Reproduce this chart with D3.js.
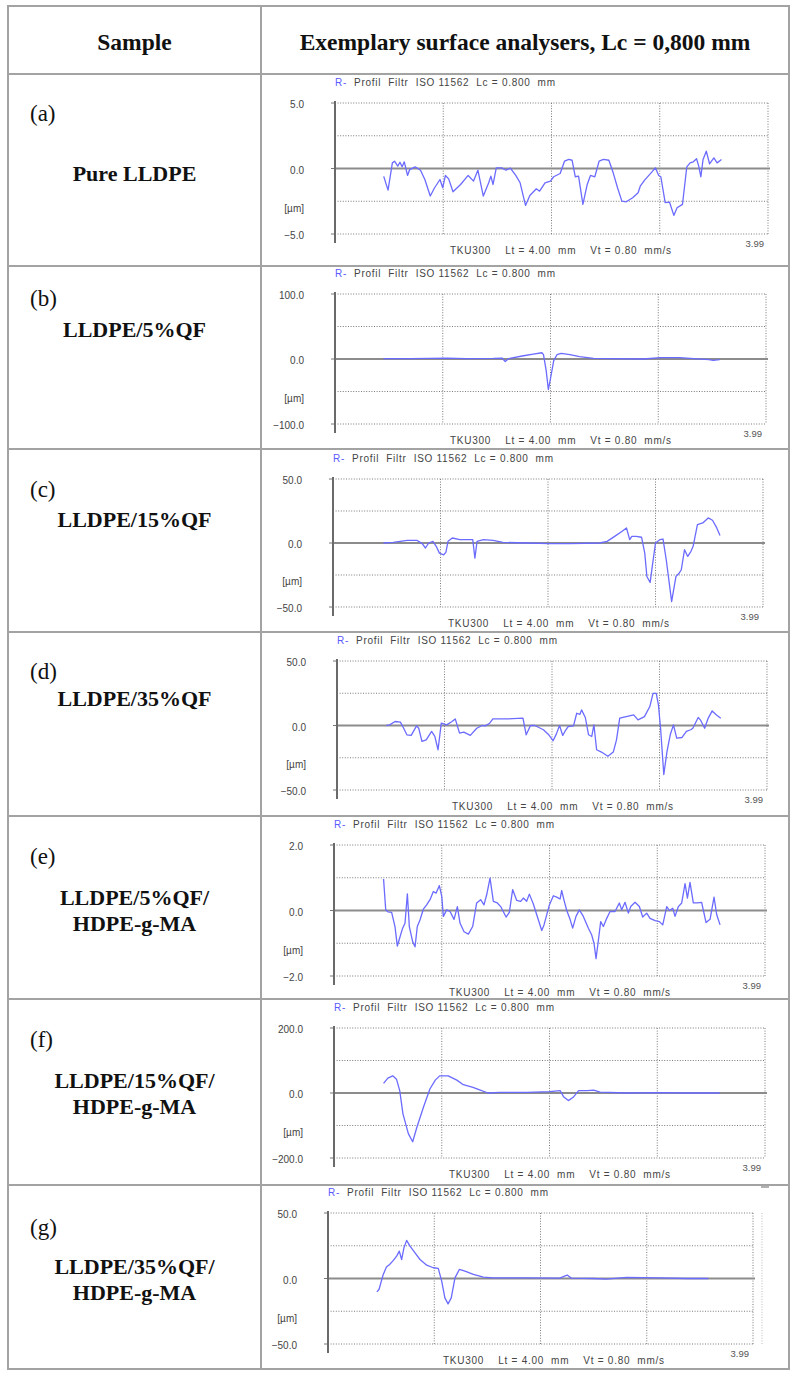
<!DOCTYPE html>
<html><head><meta charset="utf-8">
<script src="https://cdn.jsdelivr.net/npm/d3@7"></script>
<style>html,body{margin:0;padding:0;background:#fff;} svg{display:block;}</style>
</head><body>
<svg id="chart" width="797" height="1378"></svg>
<script>
// ---------- data ----------
const headerLabels = ["Sample", "Exemplary surface analysers, Lc = 0,800 mm"];
const sampleLetters = ["(a)", "(b)", "(c)", "(d)", "(e)", "(f)", "(g)"];
const sampleNames = [
  ["Pure LLDPE"], ["LLDPE/5%QF"], ["LLDPE/15%QF"], ["LLDPE/35%QF"],
  ["LLDPE/5%QF/", "HDPE-g-MA"], ["LLDPE/15%QF/", "HDPE-g-MA"], ["LLDPE/35%QF/", "HDPE-g-MA"]
];
const yLimits = [5, 100, 50, 50, 2, 200, 50];      // µm, symmetric axis
const xLength = 4;                                  // mm
const xEndLabel = "3.99";
const yUnitLabel = "[µm]";
const titlePrefix = "R-";
const titleText = "  Profil  Filtr  ISO 11562  Lc = 0.800  mm";
const footerText = "TKU300    Lt = 4.00  mm    Vt = 0.80  mm/s";

// profiles: [position mm, height µm]
const profileA = [[0.45,-0.6],[0.49,-1.65],[0.53,0.43],[0.55,0.56],[0.58,0.18],[0.60,0.48],[0.62,0.13],[0.64,0.51],[0.67,-0.53],[0.69,-0.08],[0.74,0.13],[0.79,-0.13],[0.83,-0.84],[0.88,-2.1],[0.92,-1.47],[0.97,-0.84],[0.995,-1.47],[1.02,-0.53],[1.05,-0.79],[1.09,-1.78],[1.16,-1.22],[1.23,-0.53],[1.28,-0.96],[1.32,-0.13],[1.37,-2.1],[1.42,-1.09],[1.44,-0.58],[1.46,-1.22],[1.49,0.05],[1.54,0.05],[1.58,-0.13],[1.62,0.03],[1.67,-0.53],[1.71,-1.09],[1.76,-2.82],[1.80,-2.06],[1.86,-1.55],[1.89,-1.73],[1.94,-1.09],[1.99,-0.96],[2.02,-0.63],[2.08,-0.38],[2.12,0.56],[2.16,0.69],[2.19,0.63],[2.22,-0.63],[2.25,-0.58],[2.29,-2.74],[2.33,-1.22],[2.36,-0.53],[2.40,-0.63],[2.44,0.56],[2.48,0.69],[2.53,0.63],[2.57,-0.33],[2.61,-1.47],[2.65,-2.49],[2.69,-2.54],[2.75,-2.23],[2.80,-1.85],[2.82,-1.35],[2.86,-0.89],[2.92,-0.33],[2.96,0.05],[2.99,-0.53],[3.01,-0.63],[3.05,-2.61],[3.09,-2.56],[3.13,-3.58],[3.16,-3.0],[3.21,-2.74],[3.25,0.13],[3.28,0.43],[3.31,0.51],[3.34,0.74],[3.36,0.18],[3.38,-0.63],[3.40,0.69],[3.43,1.32],[3.46,0.36],[3.50,0.81],[3.53,0.43],[3.57,0.69]];
const profileB = [[0.45,0.5],[0.70,0.5],[1.04,1.5],[1.22,0.5],[1.47,1],[1.55,1.5],[1.58,-4],[1.61,0.5],[1.75,5],[1.84,7.6],[1.92,9.6],[1.935,6.6],[1.96,-17.8],[1.98,-47],[2.00,-30],[2.03,-2.5],[2.06,6.6],[2.10,8.6],[2.18,6.6],[2.27,3.5],[2.40,1],[2.55,0.5],[2.86,0],[3.02,2],[3.20,2],[3.33,0.5],[3.47,-1],[3.51,-2],[3.57,-1]];
const profileC = [[0.47,0],[0.56,0.5],[0.69,2.1],[0.78,2.1],[0.83,-0.5],[0.86,-3.9],[0.89,0],[0.93,1.3],[0.96,-2.6],[0.99,-7.9],[1.03,-9.2],[1.05,-7.3],[1.07,1.3],[1.11,3.9],[1.18,2.6],[1.30,2.6],[1.32,-11.8],[1.34,1.3],[1.40,2.6],[1.49,2.1],[1.58,0.5],[1.80,0],[2.02,-0.5],[2.20,-0.5],[2.48,0],[2.55,1.3],[2.62,5.2],[2.69,9.2],[2.73,11.8],[2.76,2.6],[2.78,5.2],[2.82,5.2],[2.87,4.5],[2.90,-7.9],[2.92,-26.2],[2.95,-30.9],[2.97,-18.3],[3.00,0],[3.04,2.6],[3.07,3.1],[3.10,-13.1],[3.15,-45.8],[3.19,-26.2],[3.22,-23.6],[3.24,-20.9],[3.27,-5.2],[3.30,-10.5],[3.33,-6.5],[3.35,-2.6],[3.39,14.4],[3.44,15.7],[3.49,19.6],[3.53,17.8],[3.57,11.8],[3.60,5.8]];
const profileD = [[0.46,0],[0.49,0.5],[0.54,3.1],[0.59,2.6],[0.62,-2.1],[0.65,-7.2],[0.69,-7.7],[0.74,-0.3],[0.76,-2.1],[0.79,-12.3],[0.83,-11.1],[0.88,-4.6],[0.91,-8.5],[0.94,-18.8],[0.97,1.8],[1.02,0.5],[1.07,3.1],[1.10,5.1],[1.14,-5.9],[1.18,-5.1],[1.24,-7.7],[1.30,-2.1],[1.35,0],[1.38,-0.3],[1.42,1.8],[1.45,5.1],[1.52,5.1],[1.59,5.1],[1.73,5.7],[1.76,-7.2],[1.80,0],[1.84,0],[1.92,-3.3],[1.97,-7.2],[2.01,-11.8],[2.04,-6.7],[2.07,0],[2.10,-7.7],[2.12,-4.6],[2.15,-0.8],[2.20,-0.3],[2.23,9.5],[2.26,8.7],[2.275,12.1],[2.31,6.2],[2.34,-7.2],[2.37,-8.5],[2.39,0.5],[2.415,-18.8],[2.46,-20.6],[2.52,-23.9],[2.57,-20.6],[2.60,-11.1],[2.63,5.7],[2.69,6.9],[2.76,8.2],[2.80,4.4],[2.86,6.9],[2.91,14.7],[2.94,24.9],[2.97,24.9],[2.99,15.9],[3.01,-2.1],[3.04,-38],[3.07,-20.1],[3.10,-7.2],[3.13,0.5],[3.16,-9.8],[3.21,-9.3],[3.25,-4.6],[3.29,-3.3],[3.31,-2.1],[3.36,6.2],[3.38,4.4],[3.42,-2.1],[3.45,5.1],[3.49,11.3],[3.53,8.2],[3.57,5.7]];
const profileE = [[0.46,0.96],[0.48,0.02],[0.50,-0.04],[0.535,-0.06],[0.566,-0.49],[0.588,-1.09],[0.613,-0.8],[0.637,-0.54],[0.659,-0.39],[0.681,0.51],[0.699,-0.49],[0.73,-0.95],[0.752,-1.11],[0.773,-0.49],[0.798,-0.29],[0.829,0.04],[0.86,0.17],[0.891,0.33],[0.922,0.58],[0.947,0.53],[0.978,0.76],[1.0,0.43],[1.015,-0.18],[1.046,0.02],[1.077,-0.03],[1.114,-0.27],[1.145,0.12],[1.17,-0.39],[1.207,-0.65],[1.247,-0.72],[1.287,-0.49],[1.324,0.23],[1.361,0.33],[1.392,0.17],[1.417,0.48],[1.448,0.99],[1.479,0.28],[1.516,0.23],[1.547,0.12],[1.597,-0.2],[1.627,-0.06],[1.658,0.64],[1.695,0.31],[1.733,0.28],[1.757,0.38],[1.788,0.28],[1.813,0.5],[1.85,0.2],[1.897,-0.29],[1.928,-0.61],[1.949,-0.44],[1.999,0.17],[2.036,0.45],[2.067,0.41],[2.098,0.35],[2.113,0.61],[2.135,0.31],[2.16,0],[2.191,-0.27],[2.215,-0.54],[2.246,-0.18],[2.277,0.02],[2.314,-0.18],[2.361,-0.54],[2.392,-0.75],[2.413,-1.0],[2.432,-1.47],[2.454,-0.9],[2.475,-0.34],[2.5,-0.49],[2.531,-0.24],[2.562,-0.03],[2.608,-0.03],[2.648,0.23],[2.67,0.02],[2.701,0.25],[2.732,-0.08],[2.754,0.12],[2.794,0.25],[2.834,0.12],[2.865,-0.2],[2.902,-0.08],[2.933,-0.24],[2.98,-0.31],[3.02,-0.34],[3.051,-0.44],[3.088,0.12],[3.113,0],[3.144,0.07],[3.165,-0.18],[3.196,0.12],[3.227,0.23],[3.258,0.82],[3.28,0.38],[3.304,0.86],[3.335,0.23],[3.372,0.23],[3.412,0.25],[3.453,-0.37],[3.49,-0.27],[3.527,0.41],[3.552,-0.13],[3.583,-0.44]];
const profileF = [[0.46,29.4],[0.50,45.7],[0.545,52.8],[0.58,42.6],[0.61,7.1],[0.64,-64],[0.69,-125],[0.73,-150],[0.77,-104.6],[0.83,-43.7],[0.89,12.2],[0.94,39.6],[0.98,52.8],[1.06,52.8],[1.14,39.6],[1.20,25.4],[1.29,17.3],[1.37,7.1],[1.43,0],[1.54,2],[1.79,2],[2.00,4],[2.10,7.1],[2.13,-11.2],[2.175,-23.4],[2.22,-13.2],[2.27,7.1],[2.35,7.1],[2.41,9.1],[2.47,3],[2.72,0],[3.03,1],[3.27,0],[3.58,0]];
const profileG = [[0.46,-10.2],[0.48,-8.4],[0.52,3.1],[0.55,8.7],[0.58,10.7],[0.615,13.8],[0.646,17.1],[0.671,20.9],[0.693,14.5],[0.715,23.5],[0.74,29.1],[0.772,24.7],[0.819,19.6],[0.866,14.5],[0.929,10.2],[0.991,8.2],[1.038,7.7],[1.07,-2],[1.10,-14.8],[1.13,-19.4],[1.16,-14.8],[1.195,0.5],[1.236,6.9],[1.289,5.6],[1.368,3.1],[1.462,1],[1.556,0.5],[1.87,0.5],[2.18,0.3],[2.25,2.6],[2.29,0.3],[2.50,0],[2.62,-0.5],[2.81,0.8],[3.125,0.5],[3.375,0],[3.58,0]];
const profiles = [profileA, profileB, profileC, profileD, profileE, profileF, profileG];

// ---------- layout ----------
const W = 797, H = 1378;
const tbl = {left: 8, right: 789, split: 261, top: 6};
const rowLines = [74, 266, 449, 632, 816, 999, 1185, 1369];
const letterY = [115, 300, 491, 673, 858, 1041, 1229];
const nameY = [[173], [329], [519], [698], [897, 923], [1080, 1106], [1266, 1292]];
const plots = [
  {x0:335, x1:768, y0:103, y1:234},
  {x0:335, x1:766, y0:294, y1:424},
  {x0:333, x1:763, y0:479, y1:607},
  {x0:337, x1:767, y0:661, y1:790},
  {x0:334, x1:765, y0:845, y1:976},
  {x0:334, x1:765, y0:1028, y1:1158},
  {x0:328, x1:753, y0:1213, y1:1344}
];
const serif = "'Liberation Serif','Times New Roman',serif";
const sans = "'Liberation Sans',Arial,sans-serif";

const svg = d3.select("#chart");
svg.append("rect").attr("width", W).attr("height", H).attr("fill", "#fff");

// ---------- table ----------
const tg = svg.append("g").attr("stroke", "#a3a3a3").attr("stroke-width", 2).attr("fill", "none");
tg.append("rect").attr("x", tbl.left).attr("y", tbl.top)
  .attr("width", tbl.right - tbl.left).attr("height", rowLines[rowLines.length-1] - tbl.top);
tg.append("line").attr("x1", tbl.split).attr("x2", tbl.split).attr("y1", tbl.top).attr("y2", rowLines[rowLines.length-1]);
tg.selectAll(null).data(rowLines.slice(0, -1)).join("line")
  .attr("x1", tbl.left).attr("x2", tbl.right).attr("y1", d => d).attr("y2", d => d);

svg.append("text").attr("x", (tbl.left + tbl.split)/2).attr("y", 50)
  .attr("text-anchor", "middle").attr("font-family", serif).attr("font-weight", "bold")
  .attr("font-size", 23.5).attr("fill", "#111").text(headerLabels[0]);
svg.append("text").attr("x", (tbl.split + tbl.right)/2).attr("y", 50)
  .attr("text-anchor", "middle").attr("font-family", serif).attr("font-weight", "bold")
  .attr("font-size", 23.5).attr("fill", "#111").text(headerLabels[1]);

sampleLetters.forEach((s, i) => {
  svg.append("text").attr("x", 30).attr("y", letterY[i] + 6)
    .attr("font-family", serif).attr("font-size", 23).attr("fill", "#111").text(s);
  sampleNames[i].forEach((line, j) => {
    svg.append("text").attr("x", (tbl.left + tbl.split)/2).attr("y", nameY[i][j] + 7.5)
      .attr("text-anchor", "middle").attr("font-family", serif).attr("font-weight", "bold")
      .attr("font-size", 22).attr("fill", "#111").text(line);
  });
});

// ---------- profile panels ----------
const fmt = d3.format(".1f");
profiles.forEach((data, i) => {
  const P = plots[i], M = yLimits[i];
  const x = d3.scaleLinear().domain([0, xLength]).range([P.x0, P.x1]);
  const y = d3.scaleLinear().domain([-M, M]).range([P.y1, P.y0]);
  const g = svg.append("g");
  const yTicks = [M, M/2, -M/2, -M];
  const xTicks = [1, 2, 3, 4];

  g.selectAll(null).data(yTicks).join("line")
    .attr("x1", P.x0).attr("x2", P.x1).attr("y1", d => y(d)).attr("y2", d => y(d))
    .attr("stroke", "#7a7a7a").attr("stroke-width", 1).attr("stroke-dasharray", "1,1.6");
  g.selectAll(null).data(xTicks).join("line")
    .attr("x1", d => x(d)).attr("x2", d => x(d)).attr("y1", P.y0).attr("y2", P.y1)
    .attr("stroke", "#7a7a7a").attr("stroke-width", 1).attr("stroke-dasharray", "1,1.6");
  // small left ticks
  g.selectAll(null).data([M, 0, -M]).join("line")
    .attr("x1", P.x0 - 4).attr("x2", P.x0).attr("y1", d => y(d)).attr("y2", d => y(d))
    .attr("stroke", "#777").attr("stroke-width", 1);
  // zero line
  g.append("line").attr("x1", P.x0).attr("x2", P.x1 + 2).attr("y1", y(0)).attr("y2", y(0))
    .attr("stroke", "#8c8c8c").attr("stroke-width", 2);
  // y axis
  g.append("line").attr("x1", P.x0).attr("x2", P.x0).attr("y1", P.y0 - 2).attr("y2", P.y1 + 9)
    .attr("stroke", "#6a6a6a").attr("stroke-width", 2);

  // profile trace
  g.append("path").datum(data)
    .attr("d", d3.line().x(d => x(d[0])).y(d => y(d[1])))
    .attr("fill", "none").attr("stroke", "#6b6bff").attr("stroke-width", 1.3)
    .attr("stroke-linejoin", "round");

  // y labels
  g.selectAll(null).data([M, 0, -M]).join("text")
    .attr("x", P.x0 - 31).attr("y", d => y(d) + 5)
    .attr("text-anchor", "end").attr("font-family", sans).attr("font-size", 10)
    .attr("fill", "#444").text(d => fmt(d));
  g.append("text").attr("x", P.x0 - 31).attr("y", P.y1 - 22)
    .attr("text-anchor", "end").attr("font-family", sans).attr("font-size", 10)
    .attr("fill", "#444").text(yUnitLabel);
  // title
  const t = g.append("text").attr("x", P.x0).attr("y", P.y0 - 17)
    .attr("font-family", sans).attr("font-size", 10).attr("fill", "#444")
    .style("white-space", "pre").attr("textLength", 220).attr("lengthAdjust", "spacing");
  t.append("tspan").attr("fill", "#5a5aff").text(titlePrefix);
  t.append("tspan").text(titleText);
  // footer
  g.append("text").attr("x", P.x0 + 115).attr("y", P.y1 + 20)
    .attr("font-family", sans).attr("font-size", 10).attr("fill", "#444")
    .style("white-space", "pre").attr("textLength", 221).attr("lengthAdjust", "spacing")
    .text(footerText);
  g.append("text").attr("x", P.x1 - 4).attr("y", P.y1 + 12.5)
    .attr("text-anchor", "end").attr("font-family", sans).attr("font-size", 9.5)
    .attr("fill", "#555").text(xEndLabel);

  if (i === 6) {
    g.append("line").attr("x1", P.x1 + 9).attr("x2", P.x1 + 9).attr("y1", P.y0).attr("y2", P.y1)
      .attr("stroke", "#bbb").attr("stroke-width", 1).attr("stroke-dasharray", "1,1.6");
    g.append("line").attr("x1", P.x1 + 8).attr("x2", P.x1 + 16).attr("y1", P.y0 - 26).attr("y2", P.y0 - 26)
      .attr("stroke", "#999").attr("stroke-width", 1.5);
  }
});
</script>
</body></html>
